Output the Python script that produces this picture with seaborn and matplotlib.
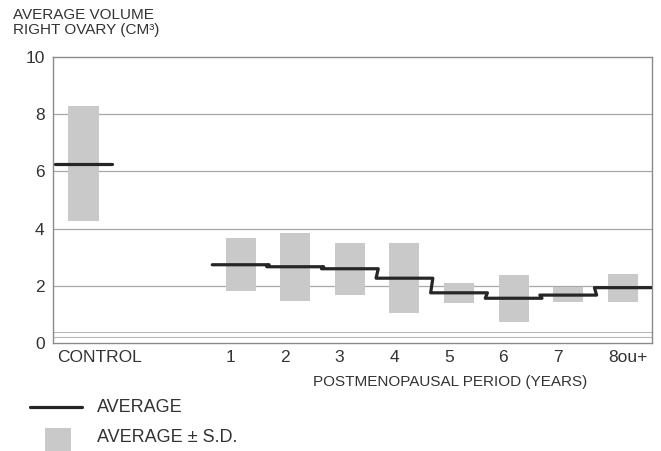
import numpy as np
import pandas as pd
import matplotlib
matplotlib.use("Agg")
import matplotlib.pyplot as plt
import seaborn as sns
from matplotlib.lines import Line2D
from matplotlib.patches import Rectangle

# values (cm3)
groups = ["CONTROL", "1", "2", "3", "4", "5", "6", "7", "8ou+"]
avg_vol = [6.25, 2.74, 2.67, 2.60, 2.27, 1.76, 1.57, 1.68, 1.94]
sd_top = [8.28, 3.67, 3.85, 3.50, 3.50, 2.09, 2.39, 1.98, 2.41]
sd_bottom = [4.28, 1.82, 1.47, 1.68, 1.04, 1.39, 0.75, 1.43, 1.45]
x_pos = [-1.885, 1, 2, 3, 4, 5, 6, 7, 8]
y_ticks = [0, 2, 4, 6, 8, 10]

df = pd.DataFrame({"group": groups, "x": x_pos, "avg": avg_vol,
                   "top": sd_top, "bottom": sd_bottom})

sns.set_style("white")
plt.rcParams["font.family"] = ["Liberation Sans", "DejaVu Sans"]

fig = plt.figure(figsize=(6.61, 4.51), dpi=100)
ax = fig.add_axes([0.080, 0.239, 0.906, 0.635])

grid_col = "#a8a8a8"
for y in y_ticks[1:-1]:
    ax.axhline(y, color=grid_col, lw=0.9, zorder=0)
# faint double line just above the baseline
for y in [0.38, 0.22]:
    ax.axhline(y, color="#b8b8b8", lw=0.8, zorder=0)

# +- S.D. boxes
widths = [0.57] + [0.55] * 8
ax.bar(df["x"], df["top"] - df["bottom"], bottom=df["bottom"], width=widths,
       color="#c9c9c9", edgecolor="none", zorder=1)

# average: control alone, then a step line over the postmenopausal years
half = 0.52
ctrl = df.iloc[:1]
sns.lineplot(x=[ctrl["x"].iloc[0] - half, ctrl["x"].iloc[0] + half],
             y=[ctrl["avg"].iloc[0]] * 2, color="#262626", lw=2.3, ax=ax,
             estimator=None, sort=False, zorder=3)
post = df.iloc[1:]
step_x = np.column_stack([post["x"] - half, post["x"] + half]).ravel()
step_y = np.repeat(post["avg"].values, 2)
sns.lineplot(x=step_x, y=step_y, color="#262626", lw=2.3, ax=ax,
             estimator=None, sort=False, zorder=3)

ax.set_xlim(-2.44, 8.53)
ax.set_ylim(0, 10)
ax.set_yticks(y_ticks)
ax.set_yticklabels([str(v) for v in y_ticks], fontsize=12.5, color="#333333")
tick_x = [-2.37] + list(post["x"] - 0.275)
ax.set_xticks(tick_x)
ax.set_xticklabels(groups, fontsize=12.5, color="#333333", ha="left")
ax.tick_params(axis="both", length=0)
ax.tick_params(axis="x", pad=5)
ax.tick_params(axis="y", pad=6)
for s in ax.spines.values():
    s.set_color("#8a8a8a")
    s.set_linewidth(1.0)

ax.set_xlabel("POSTMENOPAUSAL PERIOD (YEARS)", fontsize=11, color="#333333")
ax.xaxis.set_label_coords(0.664, -0.11)
ax.set_ylabel("")

fig.text(13 / 661, 1 - 8 / 451, "AVERAGE VOLUME\nRIGHT OVARY (CM³)",
         fontsize=11, color="#333333", va="top", ha="left", linespacing=1.05)

# legend drawn below the plot
fig.add_artist(Line2D([30 / 661, 82 / 661], [1 - 407 / 451] * 2,
                      color="#262626", lw=2.3))
fig.text(97 / 661, 1 - 407 / 451, "AVERAGE", fontsize=13, color="#333333",
         va="center", ha="left")
fig.add_artist(Rectangle((45 / 661, 0), 26 / 661, 1 - 428 / 451,
                         facecolor="#c9c9c9", edgecolor="none"))
fig.text(97 / 661, 1 - 438 / 451, "AVERAGE ± S.D.", fontsize=13,
         color="#333333", va="center", ha="left")

plt.savefig("out.png", dpi=100)
